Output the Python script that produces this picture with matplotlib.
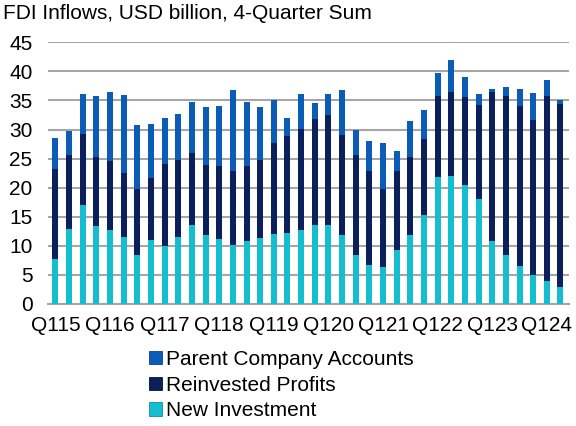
import numpy as np
import matplotlib.pyplot as plt
from matplotlib.patches import Patch

plt.rcParams['font.family'] = ['Liberation Sans', 'DejaVu Sans']

# quarterly FDI components, USD bn (4-quarter sums), Q1 2015 .. Q2 2024
quarters = [f"Q{q}{y % 100}" for y in range(2015, 2025) for q in range(1, 5)][:38]
new_investment = [7.7, 12.9, 17.0, 13.4, 12.8, 11.5, 8.5, 11.0, 9.9, 11.6,
                  13.6, 11.9, 11.1, 10.1, 10.9, 11.3, 12.0, 12.2, 12.8, 13.5,
                  13.5, 11.9, 8.5, 6.7, 6.4, 9.3, 11.8, 15.3, 21.8, 22.0,
                  20.5, 18.1, 10.9, 8.5, 6.6, 5.0, 4.0, 2.9]
reinvested = [15.5, 12.7, 12.2, 11.9, 11.8, 11.1, 11.3, 10.7, 14.2, 13.2,
              12.3, 12.0, 12.6, 12.7, 12.9, 13.4, 15.6, 16.7, 17.3, 18.3,
              19.0, 17.2, 17.1, 16.2, 13.3, 13.6, 13.5, 13.0, 13.9, 14.4,
              15.1, 16.2, 25.5, 27.3, 27.5, 26.7, 31.8, 31.5]
parent_accounts = [5.3, 4.1, 6.9, 10.5, 11.9, 13.4, 10.9, 9.3, 7.9, 7.8,
                   8.8, 9.9, 10.4, 14.0, 10.9, 9.2, 7.4, 3.0, 6.0, 2.7,
                   3.6, 7.7, 4.4, 5.1, 7.9, 3.4, 6.1, 5.0, 4.0, 5.5,
                   3.4, 1.8, 0.5, 1.5, 2.8, 4.5, 2.8, 0.7]

c_new = '#14bdcf'
c_reinv = '#0b1f5b'
c_parent = '#0b5cb6'

fig = plt.figure(figsize=(5.76, 4.26), dpi=100)
ax = fig.add_axes([0.083, 0.2864, 0.905, 0.6143])

x = np.arange(len(quarters))
w = 0.44
new_arr = np.array(new_investment)
reinv_arr = np.array(reinvested)
ax.bar(x, new_arr, w, color=c_new, zorder=3)
ax.bar(x, reinv_arr, w, bottom=new_arr, color=c_reinv, zorder=3)
ax.bar(x, parent_accounts, w, bottom=new_arr + reinv_arr, color=c_parent, zorder=3)

ax.set_xlim(-0.56, 37.63)
ax.set_ylim(0, 45)
ax.set_yticks(range(0, 46, 5))
ax.yaxis.grid(True, color='#a6a6a6', linewidth=1.5, zorder=0)
ax.set_axisbelow(True)
for s in ['top', 'right', 'left']:
    ax.spines[s].set_visible(False)
ax.spines['bottom'].set_color('#a6a6a6')
ax.spines['bottom'].set_linewidth(1.5)

ax.set_xticks(x[::4])
ax.set_xticklabels(quarters[::4])
ax.tick_params(axis='both', length=0, labelsize=15, colors='black')
ax.tick_params(axis='y', pad=11)
ax.tick_params(axis='x', pad=9)

fig.text(3 / 576, 1 - 4 / 426, 'FDI Inflows, USD billion, 4-Quarter Sum',
         fontsize=15, ha='left', va='top')

handles = [Patch(facecolor=c_parent, edgecolor='#08408a', linewidth=0.6),
           Patch(facecolor=c_reinv, edgecolor='#061236', linewidth=0.6),
           Patch(facecolor=c_new, edgecolor='#0e8f9c', linewidth=0.6)]
fig.legend(handles, ['Parent Company Accounts', 'Reinvested Profits', 'New Investment'],
           loc='upper left', bbox_to_anchor=(149 / 576, 1 - 350 / 426),
           frameon=False, fontsize=15, handlelength=0.6, handleheight=0.6,
           handletextpad=0.2, labelspacing=0.32, borderpad=0, borderaxespad=0)

fig.savefig('out.png', dpi=100)
